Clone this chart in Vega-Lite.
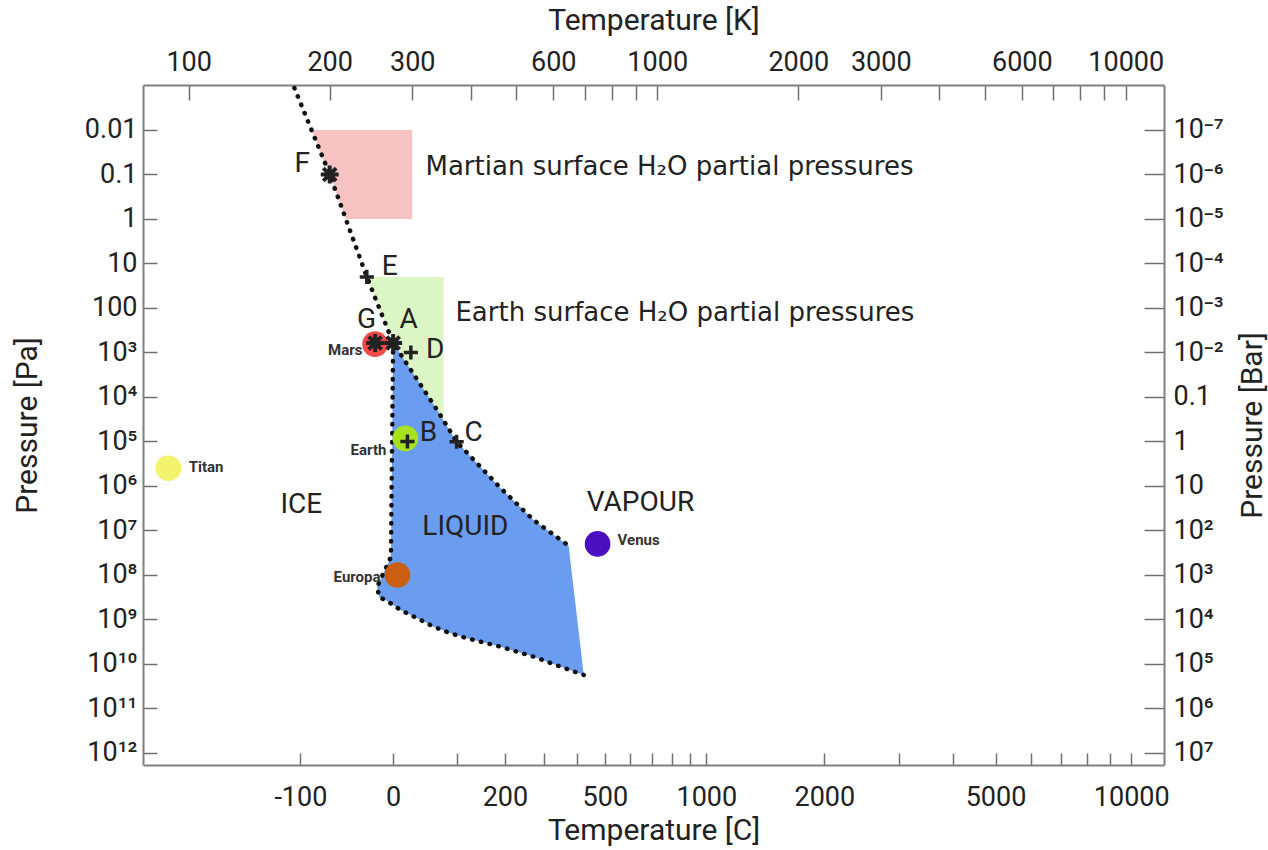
{
  "$schema": "https://vega.github.io/schema/vega-lite/v6.json",
  "width": 1021,
  "height": 680,
  "autosize": {"type": "none"},
  "padding": {"left": 143, "top": 85, "right": 104, "bottom": 85},
  "background": "white",
  "config": {
    "view": {"stroke": null},
    "font": "Roboto",
    "axis": {
      "grid": false,
      "domainColor": "#808080",
      "domainWidth": 2,
      "tickColor": "#707070",
      "tickWidth": 1.5,
      "labelFont": "Roboto",
      "labelFontSize": 27,
      "labelColor": "#222222",
      "titleFont": "Roboto",
      "titleFontSize": 30,
      "titleFontWeight": "normal",
      "titleColor": "#222222",
      "labelOverlap": false,
      "labelFlush": false,
      "labelBound": false
    }
  },
  "datasets": {
    "red": [
      {"P": 0.01, "Tl": 182.9, "Tr": 300},
      {"P": 0.1, "Tl": 200, "Tr": 300},
      {"P": 1, "Tl": 216.5, "Tr": 300}
    ],
    "green": [
      {"P": 20, "Tl": 240, "Tr": 350},
      {"P": 611.7, "Tl": 273.16, "Tr": 350},
      {"P": 21740, "Tl": 341.2, "Tr": 350},
      {"P": 33570, "Tl": 350, "Tr": 350}
    ],
    "liquid": [
      {"P": 611.7, "Tl": 273.16, "Tr": 273.16},
      {"P": 21740, "Tl": 272.3, "Tr": 341.2},
      {"P": 101325, "Tl": 272.0, "Tr": 373.15},
      {"P": 1109000, "Tl": 271.2, "Tr": 463.0},
      {"P": 5810000, "Tl": 270.8, "Tr": 544.5},
      {"P": 22000000, "Tl": 270.4, "Tr": 647.1},
      {"P": 39400000, "Tl": 270.2, "Tr": 651.2},
      {"P": 186100000, "Tl": 252.5, "Tr": 662.5},
      {"P": 312200000, "Tl": 255.0, "Tr": 666.3},
      {"P": 384000000, "Tl": 265.2, "Tr": 668.0},
      {"P": 611700000, "Tl": 283.1, "Tr": 671.4},
      {"P": 940000000, "Tl": 307.4, "Tr": 674.6},
      {"P": 1451000000, "Tl": 333.4, "Tr": 677.9},
      {"P": 2043000000, "Tl": 362.0, "Tr": 680.6},
      {"P": 2646000000, "Tl": 393.0, "Tr": 682.6},
      {"P": 4086000000, "Tl": 463.0, "Tr": 685.9},
      {"P": 6855000000, "Tl": 545.3, "Tr": 689.7},
      {"P": 11500000000, "Tl": 621.9, "Tr": 693.7},
      {"P": 17670000000, "Tl": 697.0, "Tr": 697.0}
    ],
    "phase": [
      {"seg": "subvap", "o": 0, "T": 168.1, "P": 0.001137},
      {"seg": "subvap", "o": 1, "T": 200, "P": 0.1},
      {"seg": "subvap", "o": 2, "T": 240, "P": 20},
      {"seg": "subvap", "o": 3, "T": 273.16, "P": 611.7},
      {"seg": "subvap", "o": 4, "T": 341.2, "P": 21740},
      {"seg": "subvap", "o": 5, "T": 373.15, "P": 101325},
      {"seg": "subvap", "o": 6, "T": 463.0, "P": 1109000},
      {"seg": "subvap", "o": 7, "T": 544.5, "P": 5810000},
      {"seg": "subvap", "o": 8, "T": 647.1, "P": 22000000},
      {"seg": "melt", "o": 0, "T": 273.16, "P": 611.7},
      {"seg": "melt", "o": 1, "T": 270.2, "P": 39400000},
      {"seg": "melt", "o": 2, "T": 252.5, "P": 186100000},
      {"seg": "melt", "o": 3, "T": 255.0, "P": 312200000},
      {"seg": "melt", "o": 4, "T": 265.2, "P": 384000000},
      {"seg": "melt", "o": 5, "T": 283.1, "P": 611700000},
      {"seg": "melt", "o": 6, "T": 307.4, "P": 940000000},
      {"seg": "melt", "o": 7, "T": 333.4, "P": 1451000000},
      {"seg": "melt", "o": 8, "T": 362.0, "P": 2043000000},
      {"seg": "melt", "o": 9, "T": 393.0, "P": 2646000000},
      {"seg": "melt", "o": 10, "T": 463.0, "P": 4086000000},
      {"seg": "melt", "o": 11, "T": 545.3, "P": 6855000000},
      {"seg": "melt", "o": 12, "T": 621.9, "P": 11500000000},
      {"seg": "melt", "o": 13, "T": 697.0, "P": 17670000000}
    ],
    "planets": [
      {"name": "Mars", "T": 250, "P": 650},
      {"name": "Earth", "T": 290, "P": 85000},
      {"name": "Titan", "T": 90.5, "P": 400000},
      {"name": "Europa", "T": 279, "P": 100000000},
      {"name": "Venus", "T": 746, "P": 20000000}
    ],
    "stars": [
      {"id": "F", "T": 200, "P": 0.1},
      {"id": "G", "T": 250, "P": 611.7},
      {"id": "A", "T": 273.16, "P": 611.7}
    ],
    "pluses": [
      {"id": "E", "T": 240, "P": 20},
      {"id": "D", "T": 298, "P": 1000},
      {"id": "B", "T": 293, "P": 100000},
      {"id": "C", "T": 373.15, "P": 101325}
    ],
    "letters": [
      {"text": "F", "T": 174.8, "P": 0.057},
      {"text": "E", "T": 268.5, "P": 12.3},
      {"text": "G", "T": 239.8, "P": 190},
      {"text": "A", "T": 294.7, "P": 190},
      {"text": "D", "T": 336, "P": 890},
      {"text": "B", "T": 325, "P": 64500},
      {"text": "C", "T": 405.7, "P": 64500}
    ],
    "plabRight": [
      {"text": "Mars", "T": 234.9, "P": 879},
      {"text": "Earth", "T": 264.3, "P": 155000},
      {"text": "Europa", "T": 256.7, "P": 111000000}
    ],
    "plabLeft": [
      {"text": "Titan", "T": 100, "P": 374000},
      {"text": "Venus", "T": 823, "P": 16300000}
    ],
    "regions": [
      {"text": "Martian surface H₂O partial pressures", "T": 320.2, "P": 0.0679},
      {"text": "Earth surface H₂O partial pressures", "T": 371.0, "P": 129}
    ],
    "phases": [
      {"text": "ICE", "T": 174, "P": 2670000},
      {"text": "LIQUID", "T": 389.6, "P": 8340000},
      {"text": "VAPOUR", "T": 921, "P": 2410000}
    ]
  },
  "resolve": {"axis": {"x": "independent", "y": "independent"}},
  "layer": [
    {
      "data": {"name": "red"},
      "mark": {"type": "area", "orient": "horizontal", "color": "#f7c2c2"},
      "encoding": {
        "y": {"field": "P", "type": "quantitative",
              "scale": {"type": "log", "domain": [0.000975, 1.861e12], "reverse": true, "nice": false},
              "axis": {"orient": "right", "title": "Pressure [Bar]", "titleAngle": 270, "titleBaseline": "top",
                       "values": [0.01, 0.1, 1, 10, 100, 1000, 10000, 100000, 1000000, 10000000, 100000000, 1000000000, 10000000000, 100000000000, 1000000000000],
                       "labelExpr": "['10⁻⁷','10⁻⁶','10⁻⁵','10⁻⁴','10⁻³','10⁻²','0.1','1','10','10²','10³','10⁴','10⁵','10⁶','10⁷'][round(log(datum.value)/LN10)+2]",
                       "tickSize": -20, "labelPadding": 29, "titlePadding": 14}},
        "x": {"field": "Tl", "type": "quantitative", "stack": null,
              "scale": {"type": "log", "domain": [79.9, 12067], "nice": false},
              "axis": {"orient": "top", "title": "Temperature [K]",
                       "values": [100, 200, 300, 400, 500, 600, 700, 800, 900, 1000, 2000, 3000, 4000, 5000, 6000, 7000, 8000, 9000, 10000],
                       "labelExpr": "indexof([100,200,300,600,1000,2000,3000,6000,10000], round(datum.value)) >= 0 ? '' + round(datum.value) : ''",
                       "tickSize": -15, "labelPadding": 24, "titlePadding": 13}},
        "x2": {"field": "Tr"}
      }
    },
    {
      "data": {"name": "green"},
      "mark": {"type": "area", "orient": "horizontal", "color": "#dcf5c4"},
      "encoding": {
        "y": {"field": "P", "type": "quantitative", "scale": {"type": "log", "nice": false}, "axis": null},
        "x": {"field": "Tl", "type": "quantitative", "stack": null, "scale": {"type": "log", "nice": false}, "axis": null},
        "x2": {"field": "Tr"}
      }
    },
    {
      "data": {"name": "liquid"},
      "mark": {"type": "area", "orient": "horizontal", "color": "#6a9cf0"},
      "encoding": {
        "y": {"field": "P", "type": "quantitative", "scale": {"type": "log", "nice": false},
              "axis": {"orient": "left", "title": "Pressure [Pa]",
                       "values": [0.01, 0.1, 1, 10, 100, 1000, 10000, 100000, 1000000, 10000000, 100000000, 1000000000, 10000000000, 100000000000, 1000000000000],
                       "labelExpr": "['0.01','0.1','1','10','100','10³','10⁴','10⁵','10⁶','10⁷','10⁸','10⁹','10¹⁰','10¹¹','10¹²'][round(log(datum.value)/LN10)+2]",
                       "tickSize": -14, "labelPadding": 20, "titlePadding": 42}},
        "x": {"field": "Tl", "type": "quantitative", "stack": null, "scale": {"type": "log", "nice": false},
              "axis": {"orient": "bottom", "title": "Temperature [C]",
                       "values": [173.15, 273.15, 373.15, 473.15, 573.15, 673.15, 773.15, 873.15, 973.15, 1073.15, 1173.15, 1273.15, 2273.15, 3273.15, 4273.15, 5273.15, 6273.15, 7273.15, 8273.15, 9273.15, 10273.15],
                       "labelExpr": "indexof([-100,0,200,500,1000,2000,5000,10000], round(datum.value - 273.15)) >= 0 ? '' + round(datum.value - 273.15) : ''",
                       "tickSize": -12, "labelPadding": 31, "titlePadding": 5}},
        "x2": {"field": "Tr"}
      }
    },
    {
      "data": {"name": "phase"},
      "mark": {"type": "line", "color": "#111111", "strokeWidth": 4.5, "strokeDash": [0.5, 8.5], "strokeCap": "round"},
      "encoding": {
        "x": {"field": "T", "type": "quantitative", "scale": {"type": "log", "nice": false}, "axis": null},
        "y": {"field": "P", "type": "quantitative", "scale": {"type": "log", "nice": false}, "axis": null},
        "detail": {"field": "seg"},
        "order": {"field": "o", "type": "quantitative"}
      }
    },
    {
      "data": {"name": "planets"},
      "mark": {"type": "point", "shape": "circle", "filled": true, "opacity": 1, "size": 660},
      "encoding": {
        "x": {"field": "T", "type": "quantitative", "scale": {"type": "log", "nice": false}, "axis": null},
        "y": {"field": "P", "type": "quantitative", "scale": {"type": "log", "nice": false}, "axis": null},
        "color": {"field": "name", "type": "nominal", "legend": null,
                  "scale": {"domain": ["Mars", "Earth", "Titan", "Europa", "Venus"],
                            "range": ["#f04a4a", "#a6e21e", "#f3f36e", "#cc5e12", "#4a10bf"]}}
      }
    },
    {
      "data": {"name": "stars"},
      "mark": {"type": "point", "shape": "M-1,0L1,0M0,-1L0,1M-0.72,-0.72L0.72,0.72M-0.72,0.72L0.72,-0.72", "filled": false, "stroke": "#222222", "strokeWidth": 4, "size": 320, "opacity": 1},
      "encoding": {
        "x": {"field": "T", "type": "quantitative", "scale": {"type": "log", "nice": false}, "axis": null},
        "y": {"field": "P", "type": "quantitative", "scale": {"type": "log", "nice": false}, "axis": null}
      }
    },
    {
      "data": {"name": "pluses"},
      "mark": {"type": "point", "shape": "M-1,0L1,0M0,-1L0,1", "filled": false, "stroke": "#222222", "strokeWidth": 3.5, "size": 200, "opacity": 1},
      "encoding": {
        "x": {"field": "T", "type": "quantitative", "scale": {"type": "log", "nice": false}, "axis": null},
        "y": {"field": "P", "type": "quantitative", "scale": {"type": "log", "nice": false}, "axis": null}
      }
    },
    {
      "data": {"name": "letters"},
      "mark": {"type": "text", "font": "Roboto", "fontSize": 28, "color": "#222222", "align": "center", "baseline": "middle"},
      "encoding": {
        "x": {"field": "T", "type": "quantitative", "scale": {"type": "log", "nice": false}, "axis": null},
        "y": {"field": "P", "type": "quantitative", "scale": {"type": "log", "nice": false}, "axis": null},
        "text": {"field": "text"}
      }
    },
    {
      "data": {"name": "plabRight"},
      "mark": {"type": "text", "font": "Roboto", "fontSize": 15, "fontWeight": "bold", "color": "#333333", "align": "right", "baseline": "middle"},
      "encoding": {
        "x": {"field": "T", "type": "quantitative", "scale": {"type": "log", "nice": false}, "axis": null},
        "y": {"field": "P", "type": "quantitative", "scale": {"type": "log", "nice": false}, "axis": null},
        "text": {"field": "text"}
      }
    },
    {
      "data": {"name": "plabLeft"},
      "mark": {"type": "text", "font": "Roboto", "fontSize": 15, "fontWeight": "bold", "color": "#333333", "align": "left", "baseline": "middle"},
      "encoding": {
        "x": {"field": "T", "type": "quantitative", "scale": {"type": "log", "nice": false}, "axis": null},
        "y": {"field": "P", "type": "quantitative", "scale": {"type": "log", "nice": false}, "axis": null},
        "text": {"field": "text"}
      }
    },
    {
      "data": {"name": "regions"},
      "mark": {"type": "text", "font": "DejaVu Sans", "fontSize": 26, "color": "#222222", "align": "left", "baseline": "middle"},
      "encoding": {
        "x": {"field": "T", "type": "quantitative", "scale": {"type": "log", "nice": false}, "axis": null},
        "y": {"field": "P", "type": "quantitative", "scale": {"type": "log", "nice": false}, "axis": null},
        "text": {"field": "text"}
      }
    },
    {
      "data": {"name": "phases"},
      "mark": {"type": "text", "font": "Roboto", "fontSize": 28, "color": "#222222", "align": "center", "baseline": "middle"},
      "encoding": {
        "x": {"field": "T", "type": "quantitative", "scale": {"type": "log", "nice": false}, "axis": null},
        "y": {"field": "P", "type": "quantitative", "scale": {"type": "log", "nice": false}, "axis": null},
        "text": {"field": "text"}
      }
    }
  ]
}
